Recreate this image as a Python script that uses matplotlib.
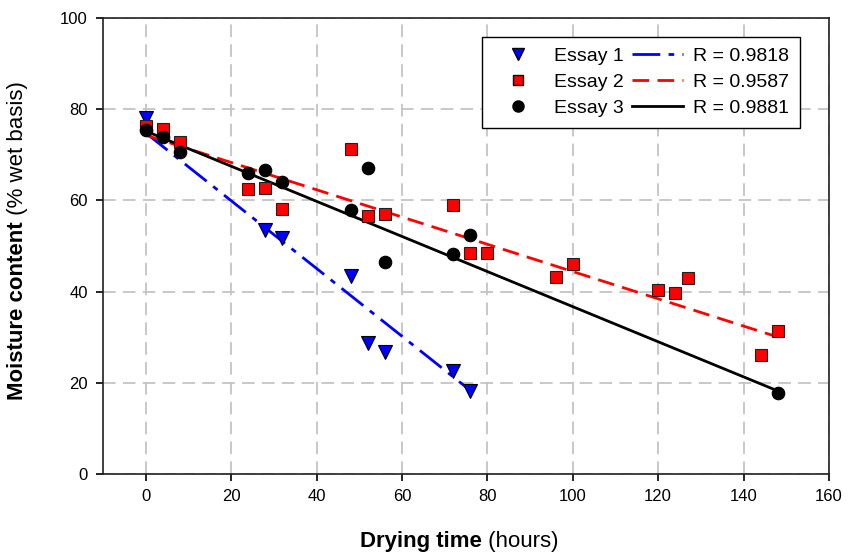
import matplotlib
matplotlib.use("Agg")
import matplotlib.pyplot as plt
from matplotlib.lines import Line2D
import numpy as np

plt.rcParams['font.family'] = ['Liberation Sans', 'DejaVu Sans']

# Essay 1 (triangles)
t1 = [0, 28, 32, 48, 52, 56, 72, 76]
m1 = [78.0, 53.5, 51.7, 43.4, 28.7, 26.8, 22.6, 18.2]
# Essay 2 (squares)
t2 = [0, 4, 8, 24, 28, 32, 48, 52, 56, 72, 76, 80, 96, 100, 120, 124, 127, 144, 148]
m2 = [76.3, 75.6, 72.8, 62.5, 62.7, 58.1, 71.2, 56.6, 57.0, 59.0, 48.5, 48.5,
      43.2, 46.0, 40.3, 39.6, 43.0, 26.1, 31.4]
# Essay 3 (circles)
t3 = [0, 4, 8, 24, 28, 32, 48, 52, 56, 72, 76, 148]
m3 = [75.4, 74.0, 70.6, 66.0, 66.7, 64.0, 57.9, 67.0, 46.5, 48.2, 52.4, 17.8]

# Regression lines (intercept, slope, x range)
fit_intercept = [74.8, 74.3, 75.2]
fit_slope = [-0.743, -0.299, -0.385]
fit_xmax = [76, 148, 148]
r_labels = ["R = 0.9818", "R = 0.9587", "R = 0.9881"]
essay_labels = ["Essay 1", "Essay 2", "Essay 3"]

x_ticks = [0, 20, 40, 60, 80, 100, 120, 140, 160]
y_ticks = [0, 20, 40, 60, 80, 100]

fig = plt.figure(figsize=(8.56, 5.54), dpi=100)
ax = fig.add_axes([103/856, 1-474/554, (829-103)/856, (474-18)/554])

ax.set_xlim(-10, 160)
ax.set_ylim(0, 100)
ax.set_xticks(x_ticks)
ax.set_yticks(y_ticks)
ax.tick_params(direction='out', length=5, width=1.2, labelsize=12, pad=6)
for s in ax.spines.values():
    s.set_linewidth(1.2)
    s.set_color('#202020')

ax.grid(True, color='#c4c4c4', linestyle=(0, (7, 4)), linewidth=1.3, zorder=0)
ax.set_axisbelow(True)

line_styles = [(0, (10, 3, 2, 3)), (0, (6, 3)), '-']
line_colors = ['#0000ff', '#ff0000', '#000000']
line_handles = []
for b, a, xm, ls, c in zip(fit_intercept, fit_slope, fit_xmax, line_styles, line_colors):
    xx = np.array([0, xm])
    h, = ax.plot(xx, b + a * xx, linestyle=ls, color=c, linewidth=2.0, zorder=2)
    line_handles.append(h)

ms = 9
ax.plot(t1, m1, linestyle='none', marker='v', markersize=ms + 1, markerfacecolor='#0000ff',
        markeredgecolor='black', markeredgewidth=0.8, zorder=3)
ax.plot(t2, m2, linestyle='none', marker='s', markersize=ms - 0.5, markerfacecolor='#ff0000',
        markeredgecolor='#202020', markeredgewidth=0.8, zorder=3)
ax.plot(t3, m3, linestyle='none', marker='o', markersize=ms, markerfacecolor='black',
        markeredgecolor='black', markeredgewidth=0.8, zorder=3)

mk_handles = [Line2D([], [], linestyle='none', marker='v', markersize=8, markerfacecolor='#0000ff', markeredgecolor='black'),
              Line2D([], [], linestyle='none', marker='s', markersize=7, markerfacecolor='#ff0000', markeredgecolor='black'),
              Line2D([], [], linestyle='none', marker='o', markersize=8, markerfacecolor='black', markeredgecolor='black')]

leg = ax.legend(mk_handles + line_handles, essay_labels + r_labels, ncol=2,
                loc='upper right', bbox_to_anchor=(800/856, 1-37/554), bbox_transform=fig.transFigure,
                borderaxespad=0, fontsize=14, handlelength=2.6, handletextpad=0.55,
                columnspacing=0.45, labelspacing=0.42, fancybox=False, framealpha=1,
                edgecolor='black', borderpad=0.55)
leg.get_frame().set_linewidth(1.0)

# axis labels
tx = fig.text(360/856, 1-541/554, "Drying time", fontsize=16, fontweight='bold', va='center', ha='left')
ax.annotate(" (hours)", xy=(1, 0), xycoords=tx, va='bottom', ha='left', fontsize=16)
ty = fig.text(18/856, 1-400/554, "Moisture content", fontsize=16, fontweight='bold', rotation=90,
              va='bottom', ha='center')
ax.annotate(" (% wet basis)", xy=(0.5, 1), xycoords=ty, va='bottom', ha='center', rotation=90, fontsize=16)

fig.savefig("out.png", dpi=100)
